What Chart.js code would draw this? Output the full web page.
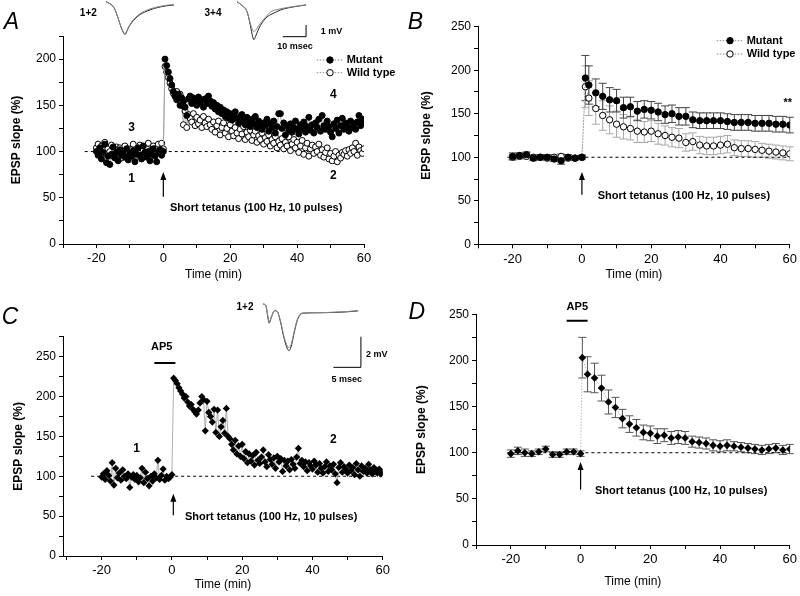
<!DOCTYPE html>
<html>
<head>
<meta charset="utf-8">
<script src="https://cdn.jsdelivr.net/npm/chart.js@4.4.0/dist/chart.umd.min.js"></script>
<style>
  body { margin: 0; background: #fff; }
  #fig { position: relative; width: 800px; height: 596px; overflow: hidden; }
  .box { position: absolute; }
</style>
</head>
<body>
<div id="fig">
  <div class="box" style="left:0;top:0;width:400px;height:290px"><canvas id="chartA"></canvas></div>
  <div class="box" style="left:400px;top:0;width:400px;height:290px"><canvas id="chartB"></canvas></div>
  <div class="box" style="left:0;top:290px;width:400px;height:306px"><canvas id="chartC"></canvas></div>
  <div class="box" style="left:400px;top:290px;width:400px;height:306px"><canvas id="chartD"></canvas></div>
  <div class="box" style="left:106px;top:0;width:68px;height:42px"><canvas id="traceA12"></canvas></div>
  <div class="box" style="left:237px;top:0;width:70px;height:42px"><canvas id="traceA34"></canvas></div>
  <div class="box" style="left:263px;top:300px;width:100px;height:70px"><canvas id="traceC"></canvas></div>
</div>
<script>
// ---- data ----
// time axis for panels A and C (min), one sample every 30 s
const timeHalfMin = [
  -20, -19.5, -19, -18.5, -18, -17.5, -17, -16.5, -16, -15.5,
  -15, -14.5, -14, -13.5, -13, -12.5, -12, -11.5, -11, -10.5,
  -10, -9.5, -9, -8.5, -8, -7.5, -7, -6.5, -6, -5.5,
  -5, -4.5, -4, -3.5, -3, -2.5, -2, -1.5, -1, -0.5,
  0,
  0.5, 1, 1.5, 2, 2.5, 3, 3.5, 4, 4.5, 5,
  5.5, 6, 6.5, 7, 7.5, 8, 8.5, 9, 9.5, 10,
  10.5, 11, 11.5, 12, 12.5, 13, 13.5, 14, 14.5, 15,
  15.5, 16, 16.5, 17, 17.5, 18, 18.5, 19, 19.5, 20,
  20.5, 21, 21.5, 22, 22.5, 23, 23.5, 24, 24.5, 25,
  25.5, 26, 26.5, 27, 27.5, 28, 28.5, 29, 29.5, 30,
  30.5, 31, 31.5, 32, 32.5, 33, 33.5, 34, 34.5, 35,
  35.5, 36, 36.5, 37, 37.5, 38, 38.5, 39, 39.5, 40,
  40.5, 41, 41.5, 42, 42.5, 43, 43.5, 44, 44.5, 45,
  45.5, 46, 46.5, 47, 47.5, 48, 48.5, 49, 49.5, 50,
  50.5, 51, 51.5, 52, 52.5, 53, 53.5, 54, 54.5, 55,
  55.5, 56, 56.5, 57, 57.5, 58, 58.5, 59, 59.5, 60
];

const mutantA = [
  100, 96, 104, 92, 99, 108, 88, 95, 86, 97,
  105, 93, 99, 90, 102, 96, 100, 94, 103, 91,
  98, 95, 101, 89, 97, 104, 96, 92, 106, 99,
  94, 100, 90, 97, 103, 95, 89, 99, 102, 96,
  100,
  200, 193, 186, 179, 172, 165, 160, 156, 162, 150,
  158, 154, 148, 139, 157, 160, 152, 158, 155, 150,
  159, 153, 156, 148, 157, 152, 160, 155, 149, 153,
  146, 150, 143, 148, 141, 145, 138, 143, 136, 141,
  134, 139, 143, 136, 131, 138, 140, 133, 129, 137,
  132, 127, 135, 130, 138, 126, 133, 129, 124, 131,
  128, 135, 122, 130, 126, 133, 120, 127, 141, 141,
  125, 131, 118, 128, 123, 130, 121, 126, 133, 124,
  119, 129, 125, 132, 121, 127, 137, 123, 129, 120,
  131, 126, 135, 122, 139, 128, 124, 133, 127, 121,
  116, 130, 125, 134, 120, 128, 136, 124, 131, 127,
  122, 133, 126, 130, 124, 132, 139, 128, 135, 131
];

const wildA = [
  104, 108, 99, 106, 101, 110, 97, 103, 100, 107,
  95, 102, 105, 98, 104, 93, 101, 106, 99, 103,
  97, 102, 108, 100, 95, 104, 107, 99, 102, 96,
  103, 109, 98, 101, 106, 97, 104, 108, 100, 109,
  103,
  192, 186, 180, 174, 168, 163, 160, 165, 158, 162,
  150, 129, 144, 126, 140, 136, 132, 141, 128, 137,
  130, 134, 126, 138, 131, 127, 135, 129, 124, 132,
  121, 128, 133, 118, 126, 131, 120, 125, 116, 129,
  122, 117, 126, 120, 114, 124, 119, 127, 113, 121,
  116, 123, 112, 118, 122, 110, 117, 113, 120, 108,
  115, 111, 118, 106, 113, 109, 116, 104, 111, 107,
  114, 103, 110, 106, 116, 101, 108, 113, 104, 110,
  99, 106, 112, 97, 104, 109, 95, 103, 107, 98,
  105, 100, 108, 96, 102, 94, 99, 104, 92, 98,
  90, 95, 100, 89, 96, 93, 99, 97, 101, 95,
  102, 98, 104, 100, 109, 96, 105, 101, 98, 103
];

const ltpC = [
  99, 103, 96, 107, 101, 94, 117, 89, 110, 98,
  104, 95, 108, 100, 97, 103, 86, 99, 102, 96,
  101, 93, 98, 110, 92, 105, 97, 88, 100, 94,
  103, 98, 120, 96, 101, 109, 95, 100, 97, 99,
  102,
  223, 220, 216, 211, 207, 203, 198, 200, 193, 188,
  190, 184, 181, 178, 183, 192, 200, 196, 157, 194,
  180, 175, 168, 184, 155, 183, 150, 162, 170, 154,
  185, 150, 147, 140, 133, 145, 128, 138, 125, 140,
  122, 131, 117, 128, 119, 126, 114, 130, 120, 116,
  124, 133, 118, 112, 127, 121, 115, 123, 110, 125,
  118, 122, 106, 120, 113, 119, 108, 121, 115, 110,
  124, 135, 116, 120, 112, 118, 107, 117, 113, 109,
  119, 114, 105, 116, 110, 104, 112, 118, 106, 113,
  108, 115, 103, 92, 111, 117, 105, 112, 109, 104,
  114, 107, 111, 102, 116, 108, 100, 113, 106, 110,
  104, 115, 108, 103, 111, 106, 104, 109, 103, 105
];

// panels B and D: group means (2 min bins)
const timeB = [-20, -18, -16, -14, -12, -10, -8, -6, -4, -2, 0,
  1, 2, 4, 6, 8, 10, 12, 14, 16, 18, 20, 22, 24, 26, 28, 30,
  32, 34, 36, 38, 40, 42, 44, 46, 48, 50, 52, 54, 56, 58, 60];
const mutantB = [101, 102, 103, 99, 100, 100, 98, 96, 100, 99, 100,
  191, 183, 174, 170, 166, 165, 157, 158, 153, 155, 154, 152, 149, 150, 147, 147,
  143, 142, 142, 142, 142, 141, 140, 140, 140, 139, 139, 139, 138, 138, 137];
const mutantErrB = [4, 3, 3, 3, 3, 3, 3, 4, 3, 2, 2,
  26, 22, 16, 15, 14, 13, 12, 11, 11, 10, 10, 10, 10, 10, 10, 10,
  9, 9, 9, 9, 9, 9, 9, 9, 9, 9, 9, 9, 9, 9, 9];
const wildB = [100, 101, 101, 100, 100, 99, 100, 101, 99, 99, 100,
  181, 168, 156, 148, 143, 138, 135, 133, 130, 129, 130, 127, 125, 123, 122, 117,
  118, 114, 113, 113, 114, 115, 111, 110, 110, 109, 108, 107, 106, 105, 104];
const wildErrB = [3, 3, 3, 3, 3, 3, 3, 3, 3, 3, 3,
  24, 20, 18, 17, 16, 15, 14, 13, 13, 12, 12, 12, 11, 11, 11, 10,
  10, 10, 10, 10, 10, 10, 9, 9, 9, 9, 8, 8, 8, 8, 8];

const timeD = [-20, -18, -16, -14, -12, -10, -8, -6, -4, -2, 0,
  0.5, 2, 4, 6, 8, 10, 12, 14, 16, 18, 20, 22, 24, 26, 28, 30,
  32, 34, 36, 38, 40, 42, 44, 46, 48, 50, 52, 54, 56, 58, 60];
const ltpD = [99, 102, 100, 99, 101, 104, 98, 98, 101, 101, 99,
  203, 185, 181, 170, 155, 149, 137, 131, 127, 122, 121, 118, 119, 116, 117, 116,
  112, 111, 110, 108, 107, 108, 107, 106, 105, 104, 103, 104, 105, 103, 104];
const errD = [4, 4, 4, 3, 3, 3, 3, 3, 3, 3, 3,
  22, 19, 16, 14, 13, 11, 10, 9, 9, 8, 8, 8, 7, 7, 7, 7,
  6, 6, 6, 6, 6, 6, 5, 5, 5, 5, 5, 5, 5, 5, 5];

// 100 % baselines and AP5 application bars
const baseY = [100, 100];
const baseXA = [-23.5, 60];
const baseXB = [-21.5, 60];
const baseXC = [-23, 60];
const baseXD = [-21, 60];
const ap5XC = [-5, 1];
const ap5XD = [-4, 2];
const ap5YC = [242, 242];
const ap5YD = [243, 243];

// ticks
const xTicks = [-30, -20, -10, 0, 10, 20, 30, 40, 50, 60];
const yTicksA = [0, 25, 50, 75, 100, 125, 150, 175, 200, 225];
const yTicksBD = [0, 25, 50, 75, 100, 125, 150, 175, 200, 225, 250];
const yTicksC = [0, 25, 50, 75, 100, 125, 150, 175, 200, 225, 250, 275];

// example EPSP traces (ms, mV)
const msA12 = [0, 1.5, 3, 3.9, 5, 6, 7, 8.2, 9, 10, 11, 12.5, 14.6, 16.5, 18.9, 21, 23.2, 26, 29.2];
const epsp1A = [0, -0.15, -0.4, -0.7, -1.3, -1.9, -2.45, -2.8, -2.5, -2.1, -1.8, -1.45, -1.1, -0.9, -0.7, -0.56, -0.45, -0.35, -0.28];
const epsp2A = [0, -0.15, -0.4, -0.7, -1.3, -1.9, -2.4, -2.75, -2.45, -2.05, -1.72, -1.38, -1.03, -0.82, -0.62, -0.5, -0.4, -0.3, -0.25];
const msA34 = [0, 2, 4.3, 5.5, 6.5, 7.2, 8, 9, 10, 11.5, 12.9, 14, 15, 17, 20, 24, 29.6];
const epsp3A = [0, -0.3, -0.85, -1.8, -2.8, -3.25, -2.95, -2.45, -2.05, -1.6, -1.3, -1.15, -1.05, -0.85, -0.62, -0.45, -0.28];
const epsp4A = [0, -0.3, -0.85, -1.7, -2.35, -2.55, -2.45, -2.15, -1.85, -1.5, -1.15, -0.95, -0.8, -0.68, -0.55, -0.42, -0.27];
const barMsA = [19.6, 29.6, 29.6];
const barMvA = [-2.99, -2.99, -1.99];
const msC = [0, 0.5, 0.9, 1.1, 1.5, 2.1, 2.6, 3.2, 3.8, 4.3, 4.7, 5.1, 5.6, 6.2, 6.9, 7.5, 9, 11, 13, 15, 17.3];
const epsp1C = [0, -0.1, -0.9, -1.25, -0.9, -0.44, -0.5, -1.2, -2.2, -2.8, -3.05, -2.8, -2.0, -1.1, -0.65, -0.6, -0.58, -0.57, -0.55, -0.52, -0.45];
const epsp2C = [0, -0.1, -0.85, -1.2, -0.85, -0.42, -0.5, -1.15, -2.1, -2.65, -2.85, -2.65, -1.9, -1.05, -0.62, -0.58, -0.56, -0.56, -0.53, -0.5, -0.43];
const barMsC = [12.8, 17.8, 17.8];
const barMvC = [-4.14, -4.14, -2.14];

// ---- drawing ----
const FONT = "'Liberation Sans', Arial, Helvetica, sans-serif";
Chart.defaults.font.family = FONT;
Chart.defaults.color = '#000';

function pts(xs, ys) { return xs.map((x, i) => ({ x: x, y: ys[i] })); }

// error bars, arrows, labels and hand-made legends
const notesPlugin = {
  id: 'notes',
  beforeDatasetsDraw(chart) {
    const ctx = chart.ctx, xs = chart.scales.x, ys = chart.scales.y;
    chart.data.datasets.forEach(ds => {
      if (!ds.errors) return;
      ctx.save();
      ctx.strokeStyle = ds.errorColor;
      ctx.lineWidth = 1;
      ds.data.forEach((p, i) => {
        const e = ds.errors[i];
        const x = xs.getPixelForValue(p.x);
        const y0 = ys.getPixelForValue(p.y - e), y1 = ys.getPixelForValue(p.y + e);
        ctx.beginPath();
        ctx.moveTo(x, y0); ctx.lineTo(x, y1);
        ctx.moveTo(x - 4, y0); ctx.lineTo(x + 4, y0);
        ctx.moveTo(x - 4, y1); ctx.lineTo(x + 4, y1);
        ctx.stroke();
      });
      ctx.restore();
    });
  },
  afterDraw(chart, args, opts) {
    const ctx = chart.ctx, xs = chart.scales.x, ys = chart.scales.y;
    ctx.save();
    (opts.arrows || []).forEach(a => {
      const x = xs.getPixelForValue(a.x);
      const yb = ys.getPixelForValue(a.from), yt = ys.getPixelForValue(a.to);
      ctx.strokeStyle = '#000'; ctx.fillStyle = '#000'; ctx.lineWidth = 1.2;
      ctx.beginPath(); ctx.moveTo(x, yb); ctx.lineTo(x, yt + 6); ctx.stroke();
      ctx.beginPath(); ctx.moveTo(x, yt); ctx.lineTo(x - 3, yt + 8); ctx.lineTo(x + 3, yt + 8); ctx.closePath(); ctx.fill();
    });
    (opts.legend || []).forEach(l => {
      ctx.strokeStyle = '#888'; ctx.lineWidth = 1; ctx.setLineDash([1.5, 1.5]);
      ctx.beginPath(); ctx.moveTo(opts.legendX[0], l.y); ctx.lineTo(opts.legendX[1], l.y); ctx.stroke();
      ctx.setLineDash([]);
      ctx.beginPath(); ctx.arc(opts.legendX[2], l.y, 3.2, 0, Math.PI * 2);
      ctx.fillStyle = l.fill ? '#000' : '#fff'; ctx.fill();
      ctx.strokeStyle = '#000'; ctx.stroke();
      ctx.fillStyle = '#000'; ctx.font = 'bold 11px ' + FONT;
      ctx.textAlign = 'left'; ctx.textBaseline = 'middle';
      ctx.fillText(l.label, opts.legendX[3], l.y);
    });
    (opts.texts || []).forEach(t => {
      ctx.fillStyle = '#000';
      ctx.font = t.f + ' ' + FONT;
      ctx.textAlign = t.a || 'center';
      ctx.textBaseline = 'middle';
      ctx.fillText(t.s, t.x, t.y);
    });
    ctx.restore();
  }
};

function panelOptions(p) {
  return {
    responsive: true,
    maintainAspectRatio: false,
    animation: false,
    events: [],
    layout: { padding: { left: 0, top: p.top, right: p.right, bottom: p.bottom } },
    plugins: { legend: { display: false }, tooltip: { enabled: false }, notes: p.notes },
    scales: {
      x: {
        type: 'linear', min: p.xMin, max: 60,
        afterBuildTicks: s => { s.ticks = xTicks.map(v => ({ value: v })); },
        afterFit: s => { s.height = p.xH; },
        grid: { drawOnChartArea: false, drawTicks: true, tickLength: 4, color: '#000' },
        border: { display: true, color: '#000', width: 1 },
        ticks: { autoSkip: false, maxRotation: 0, padding: 3, font: { size: 13 },
          callback: v => (v % 20 === 0 ? String(v) : '') },
        title: { display: true, text: 'Time (min)', font: { size: 12 }, padding: 0 }
      },
      y: {
        type: 'linear', min: 0, max: p.yMax,
        afterBuildTicks: s => { s.ticks = p.yTicks.map(v => ({ value: v })); },
        afterFit: s => { s.width = p.yW; },
        grid: { drawOnChartArea: false, drawTicks: true, tickLength: 4, color: '#000' },
        border: { display: true, color: '#000', width: 1 },
        ticks: { autoSkip: false, padding: 3, font: { size: 12 },
          callback: v => (v % 50 === 0 ? String(v) : '') },
        title: { display: true, text: 'EPSP slope (%)', font: { size: 12, weight: 'bold' },
          padding: { top: p.yTitle, bottom: 0 } }
      }
    }
  };
}

function baseline(xs) {
  return { data: pts(xs, baseY), borderColor: '#000', borderWidth: 1, borderDash: [3, 3],
    pointRadius: 0, order: 20 };
}
function bar(xs, ys) {
  return { data: pts(xs, ys), borderColor: '#000', borderWidth: 2, pointRadius: 0, order: 20 };
}

const tetanus = 'Short tetanus (100 Hz, 10 pulses)';

// Panel A
new Chart(document.getElementById('chartA'), {
  type: 'line',
  data: {
    datasets: [
      baseline(baseXA),
      { data: pts(timeHalfMin, wildA), borderColor: '#9a9a9a', borderWidth: 0.8,
        pointRadius: 3, pointBackgroundColor: '#fff', pointBorderColor: '#000', pointBorderWidth: 1, order: 5 },
      { data: pts(timeHalfMin, mutantA), borderColor: '#9a9a9a', borderWidth: 0.8,
        pointRadius: 3, pointBackgroundColor: '#000', pointBorderColor: '#000', pointBorderWidth: 1, order: 1 }
    ]
  },
  options: panelOptions({
    xMin: -30, yMax: 225, yTicks: yTicksA, top: 36, right: 36, bottom: 7.8, yW: 63, xH: 38.2, yTitle: 9.5,
    notes: {
      arrows: [{ x: 0, from: 51, to: 78 }],
      legendX: [316.7, 343.3, 330, 346.7],
      legend: [{ label: 'Mutant', y: 60, fill: true }, { label: 'Wild type', y: 72.7, fill: false }],
      texts: [
        { s: 'A', x: 11.5, y: 23, f: 'italic 23px' },
        { s: '1+2', x: 88.3, y: 13.3, f: 'bold 10px' },
        { s: '3+4', x: 213, y: 13.3, f: 'bold 10px' },
        { s: '1 mV', x: 320.7, y: 31.7, f: 'bold 9px', a: 'left' },
        { s: '10 msec', x: 295, y: 46.7, f: 'bold 9px' },
        { s: '3', x: 131.7, y: 127.7, f: 'bold 12px' },
        { s: '1', x: 131.7, y: 178.3, f: 'bold 12px' },
        { s: '4', x: 333.3, y: 94.3, f: 'bold 12px' },
        { s: '2', x: 333.3, y: 176, f: 'bold 12px' },
        { s: tetanus, x: 170, y: 207.7, f: 'bold 11px', a: 'left' }
      ]
    }
  }),
  plugins: [notesPlugin]
});

// Panel B
new Chart(document.getElementById('chartB'), {
  type: 'line',
  data: {
    datasets: [
      baseline(baseXB),
      { data: pts(timeB, wildB), errors: wildErrB, errorColor: '#a8a8a8', borderColor: '#999', borderWidth: 1,
        borderDash: [1, 2], pointRadius: 3.2, pointBackgroundColor: '#fff', pointBorderColor: '#000',
        pointBorderWidth: 1, order: 5 },
      { data: pts(timeB, mutantB), errors: mutantErrB, errorColor: '#444', borderColor: '#999', borderWidth: 1,
        borderDash: [1, 2], pointRadius: 3.2, pointBackgroundColor: '#000', pointBorderColor: '#000',
        pointBorderWidth: 1, order: 1 }
    ]
  },
  options: panelOptions({
    xMin: -30, yMax: 250, yTicks: yTicksBD, top: 26.7, right: 9, bottom: 7.8, yW: 78, xH: 37.9, yTitle: 19.5,
    notes: {
      arrows: [{ x: 0, from: 57, to: 83 }],
      legendX: [316.7, 343.3, 330, 346.7],
      legend: [{ label: 'Mutant', y: 40.7, fill: true }, { label: 'Wild type', y: 54, fill: false }],
      texts: [
        { s: 'B', x: 15.5, y: 22.5, f: 'italic 23px' },
        { s: '**', x: 387.7, y: 103.3, f: 'bold 11px' },
        { s: tetanus, x: 197.7, y: 196, f: 'bold 11px', a: 'left' }
      ]
    }
  }),
  plugins: [notesPlugin]
});

// Panel C
new Chart(document.getElementById('chartC'), {
  type: 'line',
  data: {
    datasets: [
      baseline(baseXC),
      bar(ap5XC, ap5YC),
      { data: pts(timeHalfMin, ltpC), borderColor: '#9a9a9a', borderWidth: 0.8,
        pointStyle: 'rectRot', pointRadius: 3.6, pointBackgroundColor: '#000', pointBorderColor: '#000',
        pointBorderWidth: 0, order: 1 }
    ]
  },
  options: panelOptions({
    xMin: -31, yMax: 275, yTicks: yTicksC, top: 46.7, right: 17.3, bottom: 3.8, yW: 63, xH: 36.2, yTitle: 11.1,
    notes: {
      arrows: [{ x: 0.4, from: 51, to: 78 }],
      texts: [
        { s: 'C', x: 10, y: 27.5, f: 'italic 23px' },
        { s: 'AP5', x: 161.7, y: 56.7, f: 'bold 11px' },
        { s: '1+2', x: 245, y: 17.3, f: 'bold 10px' },
        { s: '2 mV', x: 366, y: 65, f: 'bold 9px', a: 'left' },
        { s: '5 msec', x: 346.7, y: 89.3, f: 'bold 9px' },
        { s: '1', x: 136.7, y: 158.3, f: 'bold 12px' },
        { s: '2', x: 333.3, y: 150, f: 'bold 12px' },
        { s: tetanus, x: 185, y: 227.3, f: 'bold 11px', a: 'left' }
      ]
    }
  }),
  plugins: [notesPlugin]
});

// Panel D
new Chart(document.getElementById('chartD'), {
  type: 'line',
  data: {
    datasets: [
      baseline(baseXD),
      bar(ap5XD, ap5YD),
      { data: pts(timeD, ltpD), errors: errD, errorColor: '#555', borderColor: '#999', borderWidth: 1,
        borderDash: [1, 2], pointStyle: 'rectRot', pointRadius: 3.8, pointBackgroundColor: '#000',
        pointBorderColor: '#000', pointBorderWidth: 0, order: 1 }
    ]
  },
  options: panelOptions({
    xMin: -30, yMax: 250, yTicks: yTicksBD, top: 24.3, right: 9, bottom: 7.1, yW: 76, xH: 43.9, yTitle: 14.5,
    notes: {
      arrows: [{ x: 0, from: 60, to: 90 }],
      texts: [
        { s: 'D', x: 16.7, y: 22.7, f: 'italic 23px' },
        { s: 'AP5', x: 177.3, y: 17.3, f: 'bold 11px' },
        { s: tetanus, x: 195, y: 200.7, f: 'bold 11px', a: 'left' }
      ]
    }
  }),
  plugins: [notesPlugin]
});

// inset traces
function trace(id, xMax, yMin, yMax, sets) {
  new Chart(document.getElementById(id), {
    type: 'line',
    data: {
      datasets: sets.map(s => ({
        data: pts(s.x, s.y), borderColor: s.c, borderWidth: 1, pointRadius: 0,
        cubicInterpolationMode: s.smooth ? 'monotone' : 'default', clip: false
      }))
    },
    options: {
      responsive: true, maintainAspectRatio: false, animation: false, events: [],
      layout: { padding: 0 },
      plugins: { legend: { display: false }, tooltip: { enabled: false } },
      scales: {
        x: { type: 'linear', display: false, min: 0, max: xMax },
        y: { type: 'linear', display: false, min: yMin, max: yMax }
      }
    }
  });
}

trace('traceA12', 29.2, -3.445, 0.145, [
  { x: msA12, y: epsp2A, c: '#888', smooth: true },
  { x: msA12, y: epsp1A, c: '#222', smooth: true }
]);
trace('traceA34', 30.0, -3.445, 0.145, [
  { x: msA34, y: epsp4A, c: '#888', smooth: true },
  { x: msA34, y: epsp3A, c: '#222', smooth: true },
  { x: barMsA, y: barMvA, c: '#000' }
]);
trace('traceC', 18.18, -4.314, 0.261, [
  { x: msC, y: epsp2C, c: '#888', smooth: true },
  { x: msC, y: epsp1C, c: '#222', smooth: true },
  { x: barMsC, y: barMvC, c: '#000' }
]);
</script>
</body>
</html>
